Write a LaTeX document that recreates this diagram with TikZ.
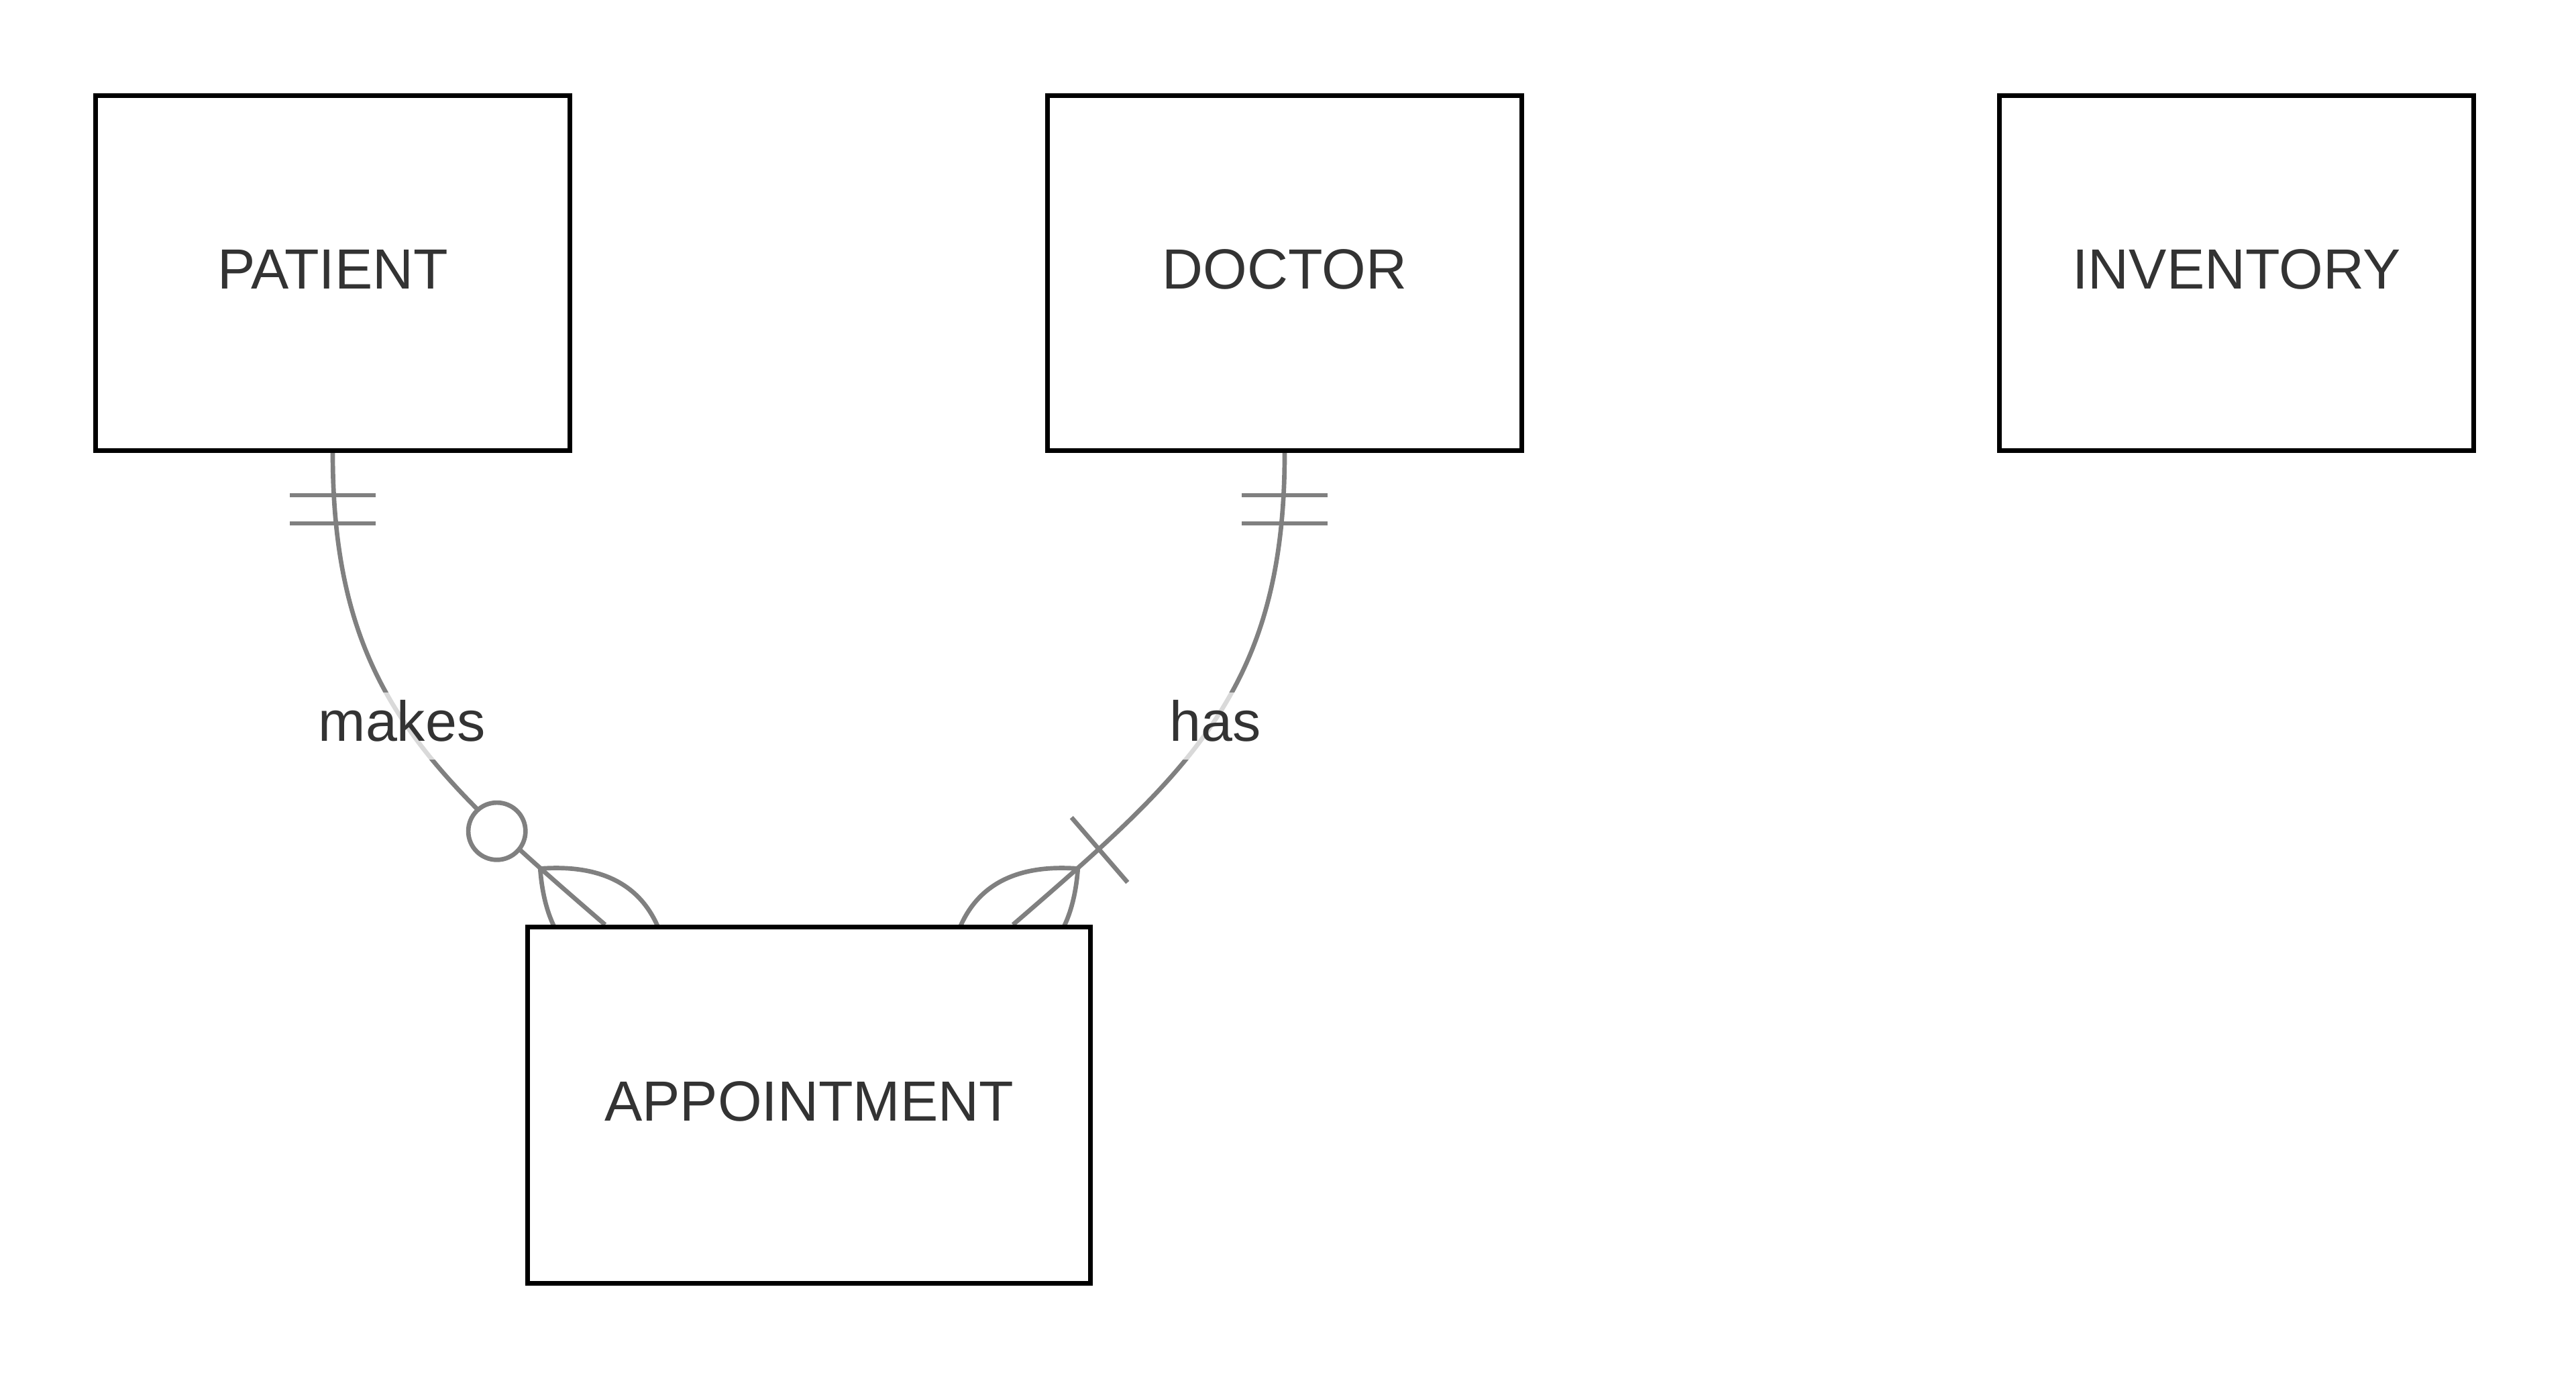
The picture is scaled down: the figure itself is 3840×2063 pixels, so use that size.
\documentclass[tikz,border=0pt]{standalone}
\usepackage{fontspec}
\setmainfont{Liberation Sans}
\usetikzlibrary{calc,backgrounds}
\definecolor{relgray}{HTML}{808080}
\definecolor{textgray}{HTML}{333333}

\begin{document}
\begin{tikzpicture}
            [x=0.01cm, y=-0.01cm,
            entity/.style={rectangle, draw=black, fill=white, line width=1.9pt, inner sep=0pt,
                minimum width=7.07cm, minimum height=5.29cm, text=textgray,
                font=\fontsize{24}{28}\selectfont, text height=0.6cm, text depth=0.14cm},
            rel/.style={draw=relgray, line width=1.9pt},
            rellabel/.style={fill=white, fill opacity=0.7, text opacity=1, text=textgray, inner sep=0pt,
                font=\fontsize{24}{28}\selectfont, text height=0.72cm, text depth=0.28cm}]

            \useasboundingbox (0,0) rectangle (3840,2063);

            \node[entity] (patient) at (496,407) {PATIENT};
            \node[entity] (doctor) at (1915,407) {DOCTOR};
            \node[entity] (inventory) at (3334,407) {INVENTORY};
            \node[entity, minimum width=8.39cm, minimum height=5.31cm] (appt) at (1206,1647) {APPOINTMENT};

            % end points of the relationships on APPOINTMENT
            \coordinate (end1) at ($(appt.north)+(-304,0)$);
            \coordinate (end2) at ($(appt.north)+(304,0)$);
            \coordinate (ctl1) at ($(end1)+(-264,-228)$);
            \coordinate (ctl2) at ($(end2)+(264,-228)$);

            \begin{scope}[on background layer]
            % Relationship lines
            \draw[rel] (patient.south) .. controls ($(patient.south)+(0,351)$) and (ctl1) .. (end1);
            \draw[rel] (doctor.south) .. controls ($(doctor.south)+(0,351)$) and (ctl2) .. (end2);

            % exactly one at PATIENT and DOCTOR
            \foreach \ent in {patient, doctor}
                \foreach \dy in {63,105}
                    \draw[rel] ($(\ent.south)+(-64,\dy)$) -- ++(128,0);

            % zero or more at APPOINTMENT (makes)
            \coordinate (apex1) at ($(end1)!1.278cm!(ctl1)$);
            \coordinate (tip1) at ($(end1)!1.278cm!180:(ctl1)$);
            \coordinate (cl1) at ($(end1)!1.278cm!90:(ctl1)$);
            \coordinate (cr1) at ($(end1)!1.278cm!-90:(ctl1)$);
            \draw[rel] (apex1) .. controls ($(apex1)!2/3!(cl1)$) and ($(tip1)!2/3!(cl1)$) .. (tip1)
                .. controls ($(tip1)!2/3!(cr1)$) and ($(apex1)!2/3!(cr1)$) .. (apex1);
            \draw[rel, fill=white] ($(end1)!2.13cm!(ctl1)$) circle (0.426cm);

            % one or more at APPOINTMENT (has)
            \coordinate (apex2) at ($(end2)!1.278cm!(ctl2)$);
            \coordinate (tip2) at ($(end2)!1.278cm!180:(ctl2)$);
            \coordinate (cl2) at ($(end2)!1.278cm!90:(ctl2)$);
            \coordinate (cr2) at ($(end2)!1.278cm!-90:(ctl2)$);
            \draw[rel] (apex2) .. controls ($(apex2)!2/3!(cl2)$) and ($(tip2)!2/3!(cl2)$) .. (tip2)
                .. controls ($(tip2)!2/3!(cr2)$) and ($(apex2)!2/3!(cr2)$) .. (apex2);
            \coordinate (bar2) at ($(end2)!1.704cm!(ctl2)$);
            \draw[rel] ($(bar2)!0.639cm!90:(ctl2)$) -- ($(bar2)!0.639cm!-90:(ctl2)$);
            \end{scope}

            % Labels for the relationships
            \node[rellabel] (makes) at (599,1082) {makes};
            \node[rellabel] (has) at (1812,1082) {has};

        \end{tikzpicture}
\end{document}
